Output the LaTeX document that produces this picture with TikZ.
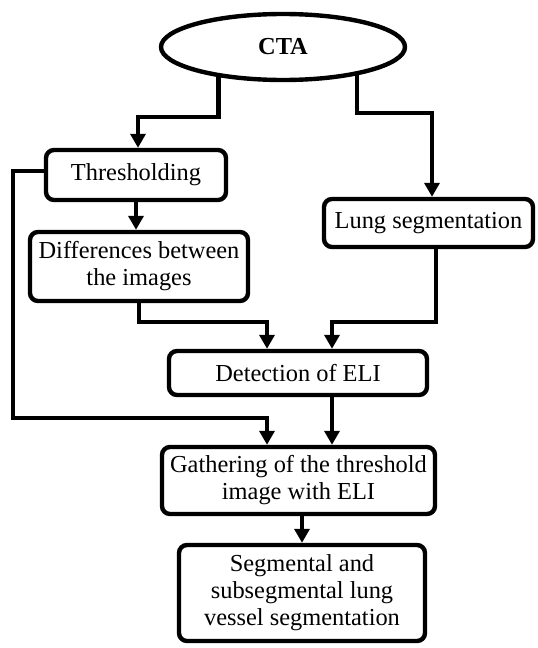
\documentclass[tikz,border=0pt]{standalone}
\usepackage{fontspec}
\setmainfont{Liberation Serif}
\usetikzlibrary{shapes.geometric,arrows.meta}

\begin{document}
\begin{tikzpicture}[x=0.5pt,y=-0.5pt,
    every node/.style={font=\fontsize{12.2pt}{13.5pt}\selectfont},
    stage/.style={draw,line width=2.2pt,rounded corners=4pt,align=center,inner sep=1pt},
    link/.style={line width=2.2pt,-{Triangle[width=7.5pt,length=7pt]}}]
    % Frame
    \useasboundingbox (0,0) rectangle (537,648);
    % Boxes
    \node[draw,ellipse,line width=2.2pt,minimum width=122pt,minimum height=33pt,inner sep=0pt] (cta) at (283,47) {\textbf{CTA}};
    \node[stage,minimum width=90pt,minimum height=25pt] (thr) at (136,175) {Thresholding};
    \node[stage,minimum width=109pt,minimum height=34.5pt] (diff) at (139,266.5) {Differences between\\the images};
    \node[stage,minimum width=104.5pt,minimum height=24pt] (lung) at (428.5,223) {Lung segmentation};
    \node[stage,minimum width=129pt,minimum height=22pt] (det) at (298,373) {Detection of ELI};
    \node[stage,minimum width=136.5pt,minimum height=33.5pt] (gath) at (298.5,480.5) {Gathering of the threshold\\image with ELI};
    \node[stage,minimum width=123pt,minimum height=48pt] (seg) at (302,593) {Segmental and\\subsegmental lung\\vessel segmentation};
    % Bends
    \coordinate (ka) at (138,117);
    \coordinate (kb) at (432,113);
    \coordinate (kc) at (267,322);
    \coordinate (kd) at (332,322);
    \coordinate (ke) at (13,418);
    \coordinate (kf) at (267,418);
    % Arrows
    \draw[link] (cta.205.1) |- (ka) -- (ka |- thr.north);
    \draw[link] (cta.-21.9) |- (kb) -- (kb |- lung.north);
    \draw[link] (thr.south) -- (thr.south |- diff.north);
    \draw[link] ([yshift=2pt]thr.west) -| (ke) -- (kf) -- (kf |- gath.north);
    \draw[link] (diff.south) |- (kc) -- (kc |- det.north);
    \draw[link] ([xshift=3.75pt]lung.south) |- (kd) -- (kd |- det.north);
    \draw[link] (kd |- det.south) -- (kd |- gath.north);
    \draw[link] (seg.north |- gath.south) -- (seg.north);
\end{tikzpicture}
\end{document}
